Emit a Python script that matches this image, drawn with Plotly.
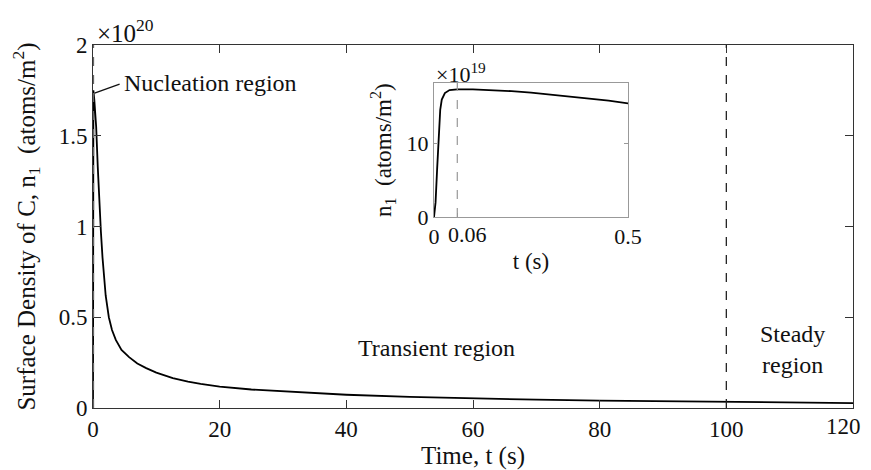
import plotly.graph_objects as go

# Main curve: time (s) and surface density (x1e20 atoms/m^2)
main_t = [0, 0.01, 0.03, 0.06, 0.2, 0.5, 0.75, 1.0, 1.25, 1.5, 1.75, 2.0, 2.5, 3.0, 3.6, 4.5,
          5.7, 7.0, 8.4, 10, 12.6, 15, 17, 20, 25, 30, 40, 50, 60, 70, 80, 90, 100, 110, 120]
main_n = [0, 1.45, 1.68, 1.75, 1.70, 1.55, 1.33, 1.13, 0.97, 0.83, 0.71, 0.62, 0.50, 0.43, 0.375,
          0.32, 0.28, 0.245, 0.22, 0.195, 0.165, 0.145, 0.133, 0.118, 0.102, 0.091, 0.073, 0.061,
          0.052, 0.046, 0.041, 0.037, 0.033, 0.030, 0.027]

# Inset curve: time (s) and n1 (x1e19 atoms/m^2)
inset_t = [0, 0.004, 0.008, 0.012, 0.016, 0.02, 0.028, 0.04, 0.06, 0.1, 0.15, 0.2, 0.25, 0.3, 0.35,
           0.4, 0.45, 0.5]
inset_n = [0, 2.0, 6.5, 11.5, 14.6, 16.0, 16.9, 17.3, 17.4, 17.4, 17.3, 17.15, 16.95, 16.7, 16.45,
           16.15, 15.85, 15.5]

main_xticks = [0, 20, 40, 60, 80, 100, 120]
main_xticklabels = ["0", "20", "40", "60", "80", "100", ""]
last_xtick_label = "120"
main_yticks = [0, 0.5, 1, 1.5, 2]
main_yticklabels = ["0", "0.5", "1", "1.5", "2"]
inset_xticks = [0, 0.06, 0.5]
inset_xticklabels = ["0", "", "0.5"]
inset_mid_label = "0.06"
inset_yticks = [0, 10]

nucleation_t = 0.06
steady_t = 100

FONT = "Liberation Serif"
fig = go.Figure()

fig.add_trace(go.Scatter(x=main_t, y=main_n, mode="lines",
                         line=dict(color="black", width=1.8), showlegend=False,
                         xaxis="x", yaxis="y"))
fig.add_trace(go.Scatter(x=inset_t, y=inset_n, mode="lines",
                         line=dict(color="black", width=1.8), showlegend=False,
                         xaxis="x2", yaxis="y2"))

axis_common = dict(showgrid=False, zeroline=False, ticks="inside", mirror="allticks",
                   showline=True, automargin=False, tickangle=0)

fig.update_layout(
    width=863, height=462,
    margin=dict(l=85, r=18, t=37, b=62),
    paper_bgcolor="white", plot_bgcolor="white",
    font=dict(family=FONT, size=23, color="#111"),
    xaxis=dict(domain=[0, 1], range=[0, 120], tickvals=main_xticks, ticktext=main_xticklabels,
               ticklen=8, linecolor="#333", tickcolor="#333", linewidth=1,
               title=dict(text="Time, t (s)", font=dict(size=25), standoff=0),
               tickfont=dict(size=23), **axis_common),
    yaxis=dict(domain=[0, 1], range=[0, 2], tickvals=main_yticks, ticktext=main_yticklabels,
               ticklen=8, linecolor="#333", tickcolor="#333", linewidth=1,
               title=dict(text="Surface Density of C, n<sub>1</sub>\u2002(atoms/m<sup>2</sup>)",
                          font=dict(size=25), standoff=20),
               tickfont=dict(size=23), **axis_common),
    xaxis2=dict(domain=[0.4487, 0.704], range=[0, 0.5], anchor="y2",
                tickvals=inset_xticks, ticktext=inset_xticklabels, ticklen=4,
                linecolor="#999", tickcolor="#999", linewidth=1,
                title=dict(text="t (s)", font=dict(size=23), standoff=4),
                tickfont=dict(size=22), **axis_common),
    yaxis2=dict(domain=[0.526, 0.895], range=[0, 18.25], anchor="x2",
                tickvals=inset_yticks, ticklen=4,
                linecolor="#999", tickcolor="#999", linewidth=1,
                title=dict(text="n<sub>1</sub>\u2002(atoms/m<sup>2</sup>)", font=dict(size=23),
                           standoff=8),
                tickfont=dict(size=22), **axis_common),
)

# Dashed vertical lines
fig.add_shape(type="line", xref="x", yref="y", x0=nucleation_t, x1=nucleation_t, y0=0, y1=2,
              line=dict(color="#666", width=1.5, dash="dash"))
fig.add_shape(type="line", xref="x", yref="y", x0=steady_t, x1=steady_t, y0=0, y1=2,
              line=dict(color="#222", width=1.3, dash="dash"))
fig.add_shape(type="line", xref="x2", yref="y2", x0=nucleation_t, x1=nucleation_t, y0=0, y1=18.25,
              line=dict(color="#999", width=1.2, dash="dash"))

# Nucleation label leader line
fig.add_shape(type="line", xref="x", yref="y", x0=0.25, x1=4.2, y0=1.735, y1=1.785,
              line=dict(color="#111", width=1.3))

fig.add_annotation(x=4.6, y=1.79, xref="x", yref="y", text="Nucleation region",
                   showarrow=False, xanchor="left", yanchor="middle", font=dict(size=24))
fig.add_annotation(x=54.3, y=0.33, xref="x", yref="y", text="Transient region",
                   showarrow=False, xanchor="center", yanchor="middle", font=dict(size=24))
fig.add_annotation(x=110.5, y=0.32, xref="x", yref="y", text="Steady<br>region",
                   showarrow=False, xanchor="center", yanchor="middle", font=dict(size=24))

# Last main x tick label, kept inside the visible page
fig.add_annotation(x=main_xticks[-1], y=0, xref="x", yref="y", text=last_xtick_label,
                   showarrow=False, xanchor="right", yanchor="top", font=dict(size=23),
                   xshift=10, yshift=-4)

# Inset 0.06 tick label (offset right as in the original)
fig.add_annotation(x=nucleation_t, y=0, xref="x2", yref="y2", text=inset_mid_label,
                   showarrow=False, xanchor="center", yanchor="top", font=dict(size=22),
                   xshift=10, yshift=-3)

# Exponent labels
fig.add_annotation(x=0.002, y=1.0, xref="paper", yref="paper", text="×10<sup>20</sup>",
                   showarrow=False, xanchor="left", yanchor="bottom", font=dict(size=25), yshift=-4)
fig.add_annotation(x=0.4487, y=0.895, xref="paper", yref="paper", text="×10<sup>19</sup>",
                   showarrow=False, xanchor="left", yanchor="bottom", font=dict(size=22),
                   xshift=0, yshift=-6)

fig.write_html("out.html")
